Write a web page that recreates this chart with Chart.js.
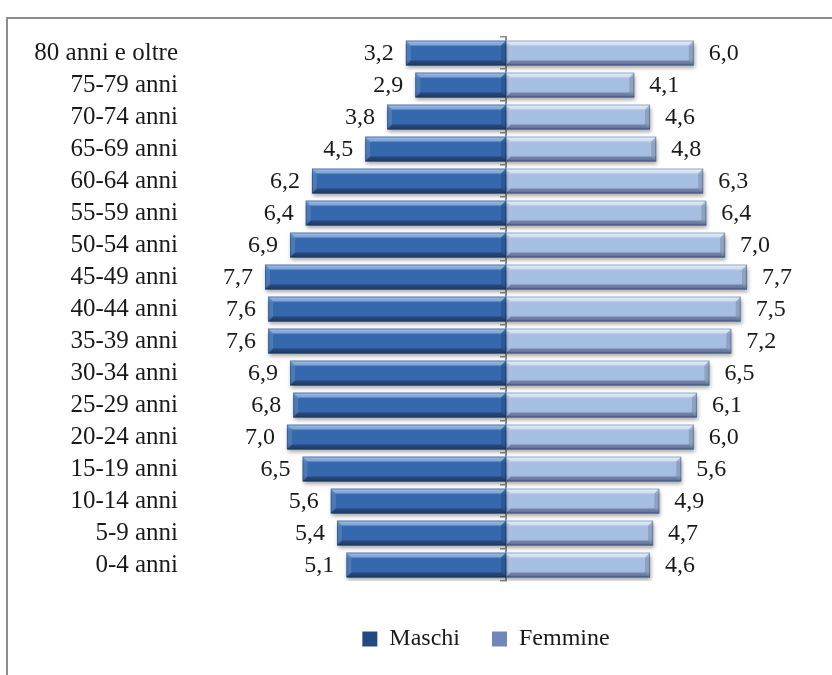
<!DOCTYPE html>
<html>
<head>
<meta charset="utf-8">
<script src="https://cdn.jsdelivr.net/npm/chart.js@4.4.0/dist/chart.umd.min.js"></script>
<style>
  html, body { margin: 0; padding: 0; background: #fff; }
  #wrap { position: relative; width: 832px; height: 675px; overflow: hidden; }
  #frame { position: absolute; left: 6px; top: 17px; width: 840px; height: 680px; border: 2px solid #8c8c8c; }
  #c { position: absolute; left: 0; top: 0; }
</style>
</head>
<body>
<div id="wrap">
  <div id="frame"></div>
  <canvas id="c" width="832" height="675"></canvas>
</div>
<script>
const classi = ['80 anni e oltre', '75-79 anni', '70-74 anni', '65-69 anni', '60-64 anni',
  '55-59 anni', '50-54 anni', '45-49 anni', '40-44 anni', '35-39 anni', '30-34 anni',
  '25-29 anni', '20-24 anni', '15-19 anni', '10-14 anni', '5-9 anni', '0-4 anni'];
const maschi  = [3.2, 2.9, 3.8, 4.5, 6.2, 6.4, 6.9, 7.7, 7.6, 7.6, 6.9, 6.8, 7.0, 6.5, 5.6, 5.4, 5.1];
const femmine = [6.0, 4.1, 4.6, 4.8, 6.3, 6.4, 7.0, 7.7, 7.5, 7.2, 6.5, 6.1, 6.0, 5.6, 4.9, 4.7, 4.6];

const FONT = 'Liberation Serif, DejaVu Serif, serif';
const BAR_PCT = 0.78;
const AXIS_GREY = '#8c8c8c';

// vertical gradient for each bar, computed from the row position on the y scale
function barFill(top, mid, bottom) {
  return function (ctx) {
    if (ctx.type !== 'data' || !ctx.chart.chartArea) return mid;
    const y = ctx.chart.scales.y;
    const cy = y.getPixelForValue(ctx.dataIndex);
    const h = (y.height / classi.length) * BAR_PCT / 2;
    const g = ctx.chart.ctx.createLinearGradient(0, cy - h, 0, cy + h);
    g.addColorStop(0, top);
    g.addColorStop(0.25, mid);
    g.addColorStop(0.75, mid);
    g.addColorStop(1, bottom);
    return g;
  };
}

function fmt(v) {
  return v.toFixed(1).replace('.', ',');
}

// shadow under the bars, bevel on top of them, then the value labels
const barDecor = {
  id: 'barDecor',
  beforeDatasetsDraw(chart) {
    const ctx = chart.ctx;
    ctx.save();
    ctx.shadowColor = 'rgba(0,0,0,0.35)';
    ctx.shadowBlur = 4;
    ctx.shadowOffsetX = 1;
    ctx.shadowOffsetY = 3;
  },
  afterDatasetsDraw(chart) {
    const ctx = chart.ctx;
    ctx.restore();

    const b = 5;
    chart.data.datasets.forEach((ds, i) => {
      chart.getDatasetMeta(i).data.forEach((bar) => {
        const xl = Math.min(bar.x, bar.base), xr = Math.max(bar.x, bar.base);
        const y0 = bar.y - bar.height / 2, y1 = bar.y + bar.height / 2;
        const poly = (pts, fill) => {
          ctx.beginPath();
          ctx.moveTo(pts[0][0], pts[0][1]);
          for (let k = 1; k < pts.length; k++) ctx.lineTo(pts[k][0], pts[k][1]);
          ctx.closePath();
          ctx.fillStyle = fill;
          ctx.fill();
        };
        poly([[xl, y0], [xr, y0], [xr - b, y0 + b], [xl + b, y0 + b]], 'rgba(255,255,255,0.35)');
        poly([[xl, y1], [xr, y1], [xr - b, y1 - b], [xl + b, y1 - b]], 'rgba(0,0,0,0.22)');
        poly([[xl, y0], [xl + b, y0 + b], [xl + b, y1 - b], [xl, y1]], 'rgba(255,255,255,0.12)');
        poly([[xr, y0], [xr - b, y0 + b], [xr - b, y1 - b], [xr, y1]], 'rgba(0,0,0,0.15)');
        ctx.strokeStyle = 'rgba(20,40,80,0.35)';
        ctx.lineWidth = 1;
        ctx.strokeRect(xl + 0.5, y0 + 0.5, xr - xl - 1, y1 - y0 - 1);
      });
    });

    ctx.save();
    ctx.font = '24px ' + FONT;
    ctx.fillStyle = '#1a1a1a';
    ctx.textBaseline = 'middle';
    chart.getDatasetMeta(0).data.forEach((bar, j) => {
      ctx.textAlign = 'right';
      ctx.fillText(fmt(maschi[j]), bar.x - 12, bar.y + 1);
    });
    chart.getDatasetMeta(1).data.forEach((bar, j) => {
      ctx.textAlign = 'left';
      ctx.fillText(fmt(femmine[j]), bar.x + 15, bar.y + 1);
    });
    ctx.restore();
  },
  afterLayout(chart) {
    // nudge the legend a little to the left of the plot centre
    chart.legend.left -= 20;
    chart.legend.right -= 20;
  }
};

new Chart(document.getElementById('c'), {
  type: 'bar',
  data: {
    labels: classi,
    datasets: [
      {
        label: 'Maschi',
        data: maschi.map(v => -v),
        backgroundColor: barFill('#5f93d2', '#3568ad', '#234a80'),
        borderWidth: 0,
        barPercentage: BAR_PCT,
        categoryPercentage: 1
      },
      {
        label: 'Femmine',
        data: femmine,
        backgroundColor: barFill('#dbe8f8', '#a6bee2', '#7088b8'),
        borderWidth: 0,
        barPercentage: BAR_PCT,
        categoryPercentage: 1
      }
    ]
  },
  options: {
    indexAxis: 'y',
    responsive: false,
    animation: false,
    layout: { padding: { left: 6, right: 13, top: 37, bottom: 14 } },
    scales: {
      x: {
        stacked: true,
        min: -10,
        max: 10,
        grid: { display: false },
        border: { display: false },
        ticks: { display: false },
        afterFit(s) { s.height = 14; }
      },
      y: {
        stacked: true,
        grid: { display: false },
        border: { display: false },
        ticks: { color: '#1a1a1a', font: { family: FONT, size: 25 }, padding: 7, autoSkip: false },
        afterFit(s) { s.width = 187; }
      },
      // centre axis with its small ticks between the age classes
      y2: {
        type: 'category',
        labels: classi,
        position: { x: 0 },
        offset: true,
        z: 1,
        grid: { display: true, drawOnChartArea: false, offset: true, tickLength: 5, color: AXIS_GREY, lineWidth: 1.5 },
        border: { display: true, color: AXIS_GREY, width: 2 },
        ticks: { display: false, autoSkip: false }
      }
    },
    plugins: {
      legend: {
        position: 'bottom',
        fullSize: false,
        labels: {
          boxWidth: 15,
          boxHeight: 15,
          padding: 32,
          color: '#1a1a1a',
          font: { family: FONT, size: 24 }
        }
      },
      tooltip: { enabled: false }
    }
  },
  plugins: [barDecor]
});
</script>
</body>
</html>
